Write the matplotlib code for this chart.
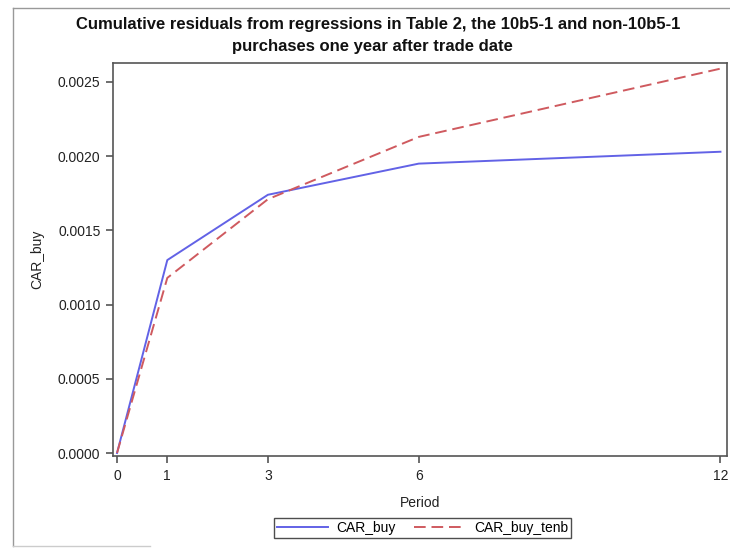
import matplotlib
matplotlib.use("Agg")
import matplotlib.pyplot as plt
from matplotlib.lines import Line2D

plt.rcParams['font.family'] = ['Liberation Sans', 'DejaVu Sans']

periods = [0, 1, 3, 6, 12]
car_buy = [0.0, 0.00130, 0.00174, 0.00195, 0.00203]
car_buy_tenb = [0.0, 0.00118, 0.00171, 0.00213, 0.00259]
xticks = [0, 1, 3, 6, 12]
yticks = [0.0, 0.0005, 0.0010, 0.0015, 0.0020, 0.0025]

W, H = 730, 548
fig = plt.figure(figsize=(W / 100, H / 100), dpi=100)
ax = fig.add_axes([113 / W, 1 - 456 / H, (727 - 113) / W, (456 - 63) / H])

ax.plot(periods, car_buy, color='#6262e6', lw=1.4, label='CAR_buy')
ax.plot(periods, car_buy_tenb, color='#cf5a5f', lw=1.4, linestyle=(0, (6, 3)),
        label='CAR_buy_tenb')

ax.set_xlim(-0.08, 12.13)
ax.set_ylim(-0.0000202, 0.002628)
ax.set_xticks(xticks)
ax.set_xticklabels([str(v) for v in xticks])
ax.set_yticks(yticks)
ax.set_yticklabels([f"{v:.4f}" for v in yticks])

for s in ax.spines.values():
    s.set_color('#555555')
    s.set_linewidth(1.2)
ax.tick_params(axis='both', colors='#555555', labelcolor='#222222', labelsize=10,
               length=5, width=1.2, pad=4)

ax.set_xlabel('Period', fontsize=10, color='#222222', labelpad=10)
ax.set_ylabel('CAR_buy', fontsize=10, color='#222222', labelpad=10)

fig.text(378 / W, 1 - 25 / H,
         'Cumulative residuals from regressions in Table 2, the 10b5-1 and non-10b5-1',
         ha='center', va='center', fontsize=12, fontweight='bold', color='#111111')
fig.text(372 / W, 1 - 47 / H,
         'purchases one year after trade date',
         ha='center', va='center', fontsize=12, fontweight='bold', color='#111111')

leg = fig.legend(loc='center', bbox_to_anchor=(422.5 / W, 1 - 528 / H), ncol=2,
                 fontsize=10, frameon=True, fancybox=False, handlelength=3.7,
                 handletextpad=0.6, columnspacing=1.3, borderpad=0.25,
                 borderaxespad=0)
leg.get_frame().set_edgecolor('#222222')
leg.get_frame().set_linewidth(1.0)

# outer border of the picture
fig.add_artist(Line2D([13 / W, 13 / W], [1 - 546 / H, 1 - 8 / H], transform=fig.transFigure,
                      color='#999999', lw=1.0))
fig.add_artist(Line2D([13 / W, 1.0], [1 - 8 / H, 1 - 8 / H], transform=fig.transFigure,
                      color='#999999', lw=1.0))
fig.add_artist(Line2D([13 / W, 150 / W], [1 - 546 / H, 1 - 546 / H], transform=fig.transFigure,
                      color='#cccccc', lw=1.0))

fig.savefig('out.png', dpi=100)
